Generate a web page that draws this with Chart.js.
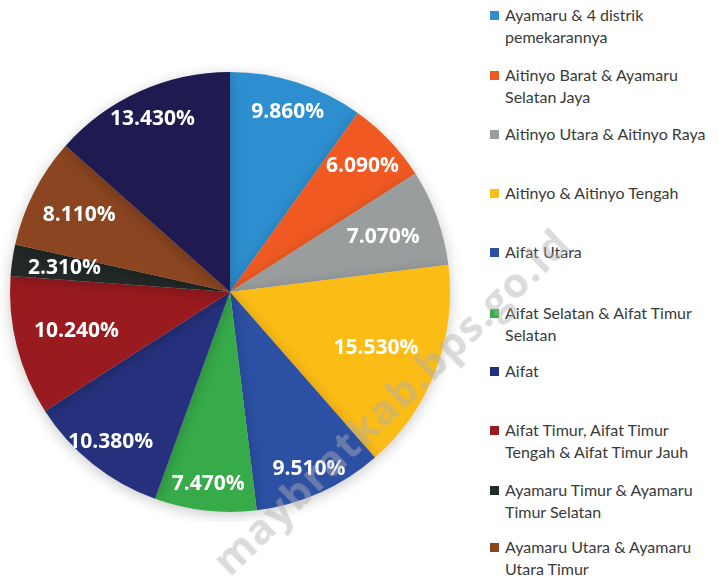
<!DOCTYPE html>
<html lang="id">
<head>
<meta charset="UTF-8">
<title>Persentase per Distrik</title>
<script src="https://cdn.jsdelivr.net/npm/chart.js"></script>
<style>
    body { margin: 0; background: #fff; }
    .wrap { position: relative; width: 718px; height: 581px; overflow: hidden; }
    #pie { position: absolute; left: 0; top: 62px; }
    #legend { position: absolute; left: 488px; top: 0; margin: 0; padding: 0; list-style: none;
              font-family: Lato, sans-serif; font-size: 16px; color: #3a3a3a; }
    #legend li { position: absolute; left: 0; width: 235px; padding-left: 17px; line-height: 22px; white-space: nowrap; }
    #legend li span { position: absolute; left: 2px; top: 7px; width: 9px; height: 9px; }
    .wm { position: absolute; left: 100px; top: 372px; width: 580px; text-align: center;
          font-family: "Open Sans", sans-serif; font-weight: 700; font-size: 42px;
          color: rgba(175,175,175,0.45); transform: rotate(-44deg); transform-origin: 50% 50%;
          letter-spacing: 1px; pointer-events: none; }
</style>
</head>
<body>
<div class="wrap">
    <canvas id="pie" width="460" height="460"></canvas>
    <ul id="legend"></ul>
    <div class="wm">maybratkab.bps.go.id</div>
</div>

<script>
// Data
const labels = [
    ['Ayamaru & 4 distrik', 'pemekarannya'],
    ['Aitinyo Barat & Ayamaru', 'Selatan Jaya'],
    ['Aitinyo Utara & Aitinyo Raya'],
    ['Aitinyo & Aitinyo Tengah'],
    ['Aifat Utara'],
    ['Aifat Selatan & Aifat Timur', 'Selatan'],
    ['Aifat'],
    ['Aifat Timur, Aifat Timur', 'Tengah & Aifat Timur Jauh'],
    ['Ayamaru Timur & Ayamaru', 'Timur Selatan'],
    ['Ayamaru Utara & Ayamaru', 'Utara Timur'],
    ['Mare & Mare Selatan']
];
const values = [9.86, 6.09, 7.07, 15.53, 9.51, 7.47, 10.38, 10.24, 2.31, 8.11, 13.43];
const colors = ['#2e8fd0', '#f05a22', '#999d9d', '#fbbc16', '#2c50a4', '#37ab49',
                '#25317c', '#9a1b1f', '#222927', '#8b4520', '#1f1a50'];

// posisi label (fraksi jari-jari) dan posisi legenda
const labelRadius = [0.86, 0.83, 0.74, 0.71, 0.88, 0.88, 0.87, 0.72, 0.76, 0.77, 0.86];
const legendTop = [4, 64, 123, 182, 241, 302, 360, 419, 479, 536];

// Plugin label persen di dalam irisan
const sliceLabels = {
    id: 'sliceLabels',
    afterDatasetsDraw(chart) {
        const ctx = chart.ctx;
        const meta = chart.getDatasetMeta(0);
        ctx.save();
        ctx.font = 'bold 21px "Open Sans", sans-serif';
        ctx.fillStyle = '#fff';
        ctx.textAlign = 'center';
        ctx.textBaseline = 'middle';
        meta.data.forEach((arc, i) => {
            const mid = (arc.startAngle + arc.endAngle) / 2;
            const r = arc.outerRadius * labelRadius[i];
            const x = arc.x + Math.cos(mid) * r;
            const y = arc.y + Math.sin(mid) * r;
            ctx.fillText(values[i].toFixed(3) + '%', x, y);
        });
        ctx.restore();
    }
};

// Bayangan halus di sekitar pie
const pieShadow = {
    id: 'pieShadow',
    beforeDatasetsDraw(chart) {
        const ctx = chart.ctx;
        ctx.save();
        ctx.shadowColor = 'rgba(0,0,0,0.22)';
        ctx.shadowBlur = 14;
        ctx.shadowOffsetY = 3;
    },
    afterDatasetsDraw(chart) {
        chart.ctx.restore();
    }
};

const chart = new Chart(document.getElementById('pie'), {
    type: 'pie',
    data: {
        labels: labels,
        datasets: [{
            data: values,
            backgroundColor: colors,
            borderWidth: 0
        }]
    },
    options: {
        responsive: false,
        animation: false,
        layout: { padding: { left: 8, right: 8, top: 10, bottom: 10 } },
        plugins: {
            legend: { display: false },
            tooltip: { enabled: false }
        }
    },
    plugins: [pieShadow, sliceLabels]
});

// Legenda HTML dari data chart (entri terakhir terpotong di gambar asli)
const ul = document.getElementById('legend');
chart.data.labels.slice(0, legendTop.length).forEach((lab, i) => {
    const li = document.createElement('li');
    li.style.top = legendTop[i] + 'px';
    const box = document.createElement('span');
    box.style.background = colors[i];
    li.appendChild(box);
    lab.forEach((line, j) => {
        if (j > 0) li.appendChild(document.createElement('br'));
        li.appendChild(document.createTextNode(line));
    });
    ul.appendChild(li);
});
</script>
</body>
</html>
